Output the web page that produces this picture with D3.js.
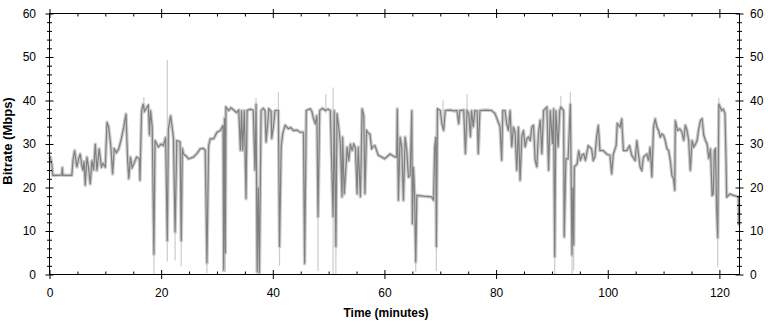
<!DOCTYPE html>
<html>
<head>
<meta charset="utf-8">
<script src="https://cdn.jsdelivr.net/npm/d3@7"></script>
<style>
  body { margin: 0; background: #fff; }
  text { font-family: "Liberation Sans", Arial, sans-serif; }
</style>
</head>
<body>
<script>
// bitrate samples: [minute, Mbps]
const bitrate = [
  [0.0,26.5],[0.15,27.0],[0.4,25.4],[0.6,22.8],[1.5,22.8],[2.2,22.9],[2.3,24.6],[2.4,22.8],[3.5,22.8],[4.0,22.8],
  [4.2,26.2],[4.5,28.5],[4.9,24.7],[5.2,26.5],[5.5,27.7],[5.8,25.0],[6.0,23.9],[6.2,26.0],[6.4,20.5],[6.7,27.0],
  [7.0,24.5],[7.3,20.8],[7.6,26.2],[7.9,24.0],[8.2,30.0],[8.5,23.9],[8.9,28.9],[9.3,24.7],[9.6,25.5],[10.0,24.7],
  [10.3,35.0],[10.6,33.9],[11.0,29.3],[11.3,23.1],[11.6,28.9],[12.0,28.0],[12.4,28.9],[12.8,30.8],[13.3,33.9],[13.7,36.9],
  [14.0,26.2],[14.2,22.0],[14.5,27.0],[14.8,24.5],[15.1,25.4],[15.6,27.0],[16.1,26.6],[16.2,21.6],[16.5,37.7],[16.8,39.2],
  [17.0,37.5],[17.3,38.1],[17.7,38.9],[17.9,32.0],[18.1,37.7],[18.4,33.9],[18.7,4.6],[18.9,30.8],[19.5,29.3],[20.0,30.0],
  [20.4,29.6],[20.8,31.5],[21.1,7.7],[21.3,33.5],[21.7,36.5],[22.0,33.5],[22.2,31.5],[22.5,9.7],[22.8,30.8],[23.4,30.5],
  [23.6,7.7],[23.8,29.0],[24.0,27.7],[24.5,27.2],[24.9,26.6],[25.4,26.8],[25.8,27.0],[26.4,27.8],[27.0,28.9],[27.6,29.0],
  [27.9,28.5],[28.2,2.6],[28.5,29.6],[28.8,31.2],[29.4,31.2],[30.0,32.7],[30.6,33.1],[31.1,34.3],[31.2,0.9],[31.35,36.0],
  [31.5,4.9],[31.6,38.5],[32.1,37.7],[32.5,38.3],[33.0,37.8],[33.5,37.2],[33.9,37.8],[34.2,28.5],[34.4,37.7],[34.6,28.5],
  [34.9,37.7],[35.2,17.4],[35.4,37.7],[36.0,38.0],[36.5,37.7],[36.8,23.9],[37.0,39.2],[37.2,0.5],[37.4,20.0],[37.6,0.3],
  [37.9,37.7],[38.3,38.2],[38.6,37.7],[38.8,30.4],[39.3,38.1],[39.7,37.5],[39.8,31.2],[40.1,33.9],[40.4,37.7],[41.0,37.7],
  [41.2,6.3],[41.5,29.3],[41.8,32.5],[42.2,34.3],[42.8,33.5],[43.2,33.8],[43.7,33.1],[44.3,33.2],[44.9,32.7],[45.5,32.7],
  [45.7,2.5],[46.0,37.7],[46.7,38.1],[47.0,37.5],[47.3,35.8],[47.6,34.7],[47.9,36.5],[48.1,13.2],[48.4,37.7],[48.9,38.2],
  [49.4,37.7],[49.9,38.0],[50.3,37.7],[50.8,13.2],[51.0,37.7],[51.3,6.3],[51.5,37.0],[51.8,33.9],[52.1,30.0],[52.4,17.8],
  [52.5,31.6],[52.8,18.5],[53.1,24.7],[53.3,29.3],[53.6,26.1],[53.9,30.0],[54.2,28.5],[54.5,30.0],[54.8,29.0],[55.1,18.5],
  [55.3,29.3],[55.7,17.8],[56.0,38.1],[56.3,36.5],[56.5,18.5],[56.8,33.1],[57.1,32.5],[57.4,32.3],[57.7,28.9],[58.0,29.5],
  [58.3,29.6],[58.6,28.5],[58.9,27.4],[59.5,27.0],[60.0,26.6],[60.4,27.0],[61.0,27.7],[61.5,27.3],[61.9,27.0],[62.2,27.0],
  [62.3,38.1],[62.5,17.0],[62.8,31.6],[63.1,29.3],[63.4,17.0],[63.7,31.6],[64.0,28.5],[64.3,22.4],[64.6,22.7],[64.9,37.7],
  [65.0,11.6],[65.2,24.7],[65.4,18.5],[65.6,2.8],[65.8,18.2],[67.0,18.0],[68.0,17.9],[68.5,17.8],[68.8,17.0],[69.0,29.3],
  [69.2,31.6],[69.3,6.3],[69.5,38.1],[70.0,37.7],[70.3,34.6],[70.6,33.1],[70.9,37.7],[71.8,37.8],[72.5,37.6],[73.0,37.7],
  [73.3,34.6],[73.5,37.7],[74.2,37.8],[74.5,27.7],[74.8,37.7],[75.1,37.0],[75.4,31.6],[75.6,37.7],[75.9,33.9],[76.2,37.7],
  [76.6,37.6],[76.8,27.7],[77.1,37.7],[78.3,37.8],[79.2,37.7],[79.8,37.0],[80.4,35.0],[80.7,33.9],[81.0,26.2],[81.2,37.7],
  [81.6,37.7],[81.9,34.6],[82.2,33.1],[82.5,37.7],[82.8,29.3],[83.1,33.9],[83.4,32.7],[83.7,23.9],[84.0,33.9],[84.3,21.6],
  [84.6,31.6],[84.9,33.1],[85.2,29.3],[85.5,31.2],[85.8,31.6],[86.1,30.8],[86.4,33.9],[86.7,34.3],[87.0,26.2],[87.3,24.7],
  [87.6,32.7],[87.9,35.5],[88.2,27.7],[88.5,37.7],[89.1,38.5],[89.4,23.9],[89.7,37.7],[90.1,30.0],[90.3,38.1],[90.5,4.0],
  [90.7,37.7],[91.1,29.3],[91.4,37.7],[91.6,38.5],[92.1,37.7],[92.2,8.6],[92.5,26.6],[92.9,26.6],[93.3,39.2],[93.6,4.4],
  [93.75,20.0],[93.9,6.7],[94.0,24.7],[94.5,25.4],[94.8,28.5],[95.1,26.2],[95.4,27.5],[95.7,27.7],[96.0,26.2],[96.5,29.6],
  [97.1,28.9],[97.4,26.2],[97.7,27.0],[98.0,31.6],[98.3,34.3],[98.6,28.5],[99.2,28.5],[99.8,27.7],[100.4,27.4],[100.7,23.1],
  [101.0,27.7],[101.5,29.6],[101.7,34.7],[102.2,33.9],[102.5,35.8],[102.8,28.5],[103.4,28.5],[103.9,29.6],[104.3,27.4],[104.9,26.2],
  [105.2,30.8],[105.5,27.7],[105.8,24.7],[106.1,23.9],[106.4,27.0],[107.0,27.7],[107.3,26.2],[107.6,29.3],[107.9,22.4],[108.2,33.9],
  [108.5,35.8],[108.8,33.9],[109.1,33.1],[109.4,31.6],[109.7,32.3],[110.0,32.0],[110.3,30.8],[110.6,28.9],[110.9,28.5],[111.2,26.2],
  [111.5,22.7],[111.8,22.0],[112.0,19.3],[112.1,35.4],[112.5,33.1],[112.9,33.5],[113.3,32.7],[113.6,30.8],[113.9,34.3],[114.2,33.1],
  [114.5,30.8],[114.8,23.9],[115.1,30.8],[115.4,29.3],[115.7,29.9],[116.0,30.8],[116.3,33.5],[116.6,35.4],[116.9,35.8],[117.2,32.0],
  [117.5,30.8],[117.8,30.0],[118.1,26.6],[118.4,28.9],[118.7,18.2],[118.9,18.5],[119.1,28.5],[119.3,28.9],[119.5,15.5],[119.7,8.4],
  [119.9,39.2],[120.4,37.7],[120.7,38.0],[121.0,37.0],[121.2,25.4],[121.3,17.8],[121.9,18.5],[122.5,18.2],[123.0,18.0],[123.4,17.8],
  [123.5,11.3]
];

// light grey min/max excursions beyond the averaged line: [minute, low, high]
const peaks = [
  [16.9,37,40.8],[18.7,0,30],[21.1,3.0,49.3],[22.5,3.2,30],[23.6,1.9,29],[28.2,0.3,29],[31.5,0.5,38],
  [37.0,30,40.5],[41.0,30,41.9],[41.2,2.0,29],[48.1,0.8,37],[49.5,37,41.5],[50.8,0,43.0],[51.3,0,37],
  [65.6,0.5,18],[69.3,0.8,38],[70.5,37,40.0],[74.8,37,41.5],[90.5,0,38],[91.6,37,41.1],[93.3,37,41.9],
  [93.6,0,20],[93.9,1.0,24],[119.7,1.7,15],[119.9,38,40.6]
];

const xMajor = [0, 20, 40, 60, 80, 100, 120];
const yMajor = [0, 10, 20, 30, 40, 50, 60];
const xMinor = d3.range(0, 124, 5).filter(v => v % 20 !== 0);
const yMinor = d3.range(0, 61, 2).filter(v => v % 10 !== 0);

const svg = d3.select('body').append('svg')
    .attr('width', 768)
    .attr('height', 322);

const x = d3.scaleLinear().domain([0, 123.6]).range([49.5, 739.5]);
const y = d3.scaleLinear().domain([0, 60]).range([274.5, 13.5]);

// light envelope first, dark line on top
const line = d3.line()
    .x(d => x(d[0]))
    .y(d => y(d[1]));

svg.append('path')
    .datum(bitrate)
    .attr('d', line)
    .attr('fill', 'none')
    .attr('stroke', '#cccccc')
    .attr('stroke-width', 3.5)
    .attr('stroke-linejoin', 'round');

svg.selectAll('line.peak')
    .data(peaks)
    .enter().append('line')
    .attr('class', 'peak')
    .attr('x1', d => x(d[0]))
    .attr('x2', d => x(d[0]))
    .attr('y1', d => y(d[1]))
    .attr('y2', d => y(d[2]))
    .attr('stroke', '#cccccc')
    .attr('stroke-width', 1.2);

svg.append('path')
    .datum(bitrate)
    .attr('d', line)
    .attr('fill', 'none')
    .attr('stroke', '#808080')
    .attr('stroke-width', 1.2);

// frame
svg.append('rect')
    .attr('x', 49.5).attr('y', 13.5)
    .attr('width', 690).attr('height', 261)
    .attr('fill', 'none')
    .attr('stroke', '#000');

function tidy(g) {
  g.select('.domain').remove();
  g.selectAll('.tick line').attr('stroke', '#000');
  g.selectAll('text').attr('font-size', '12px').attr('fill', '#000');
}

// bottom
svg.append('g').attr('transform', 'translate(0,274.5)')
    .call(d3.axisBottom(x).tickValues(xMinor).tickSize(-3).tickFormat(''))
    .call(tidy);
svg.append('g').attr('transform', 'translate(0,274.5)')
    .call(d3.axisBottom(x).tickValues(xMajor).tickSize(4.5).tickPadding(9.5))
    .call(tidy)
    .call(g => g.selectAll('.tick line').attr('y1', -4.5));

// top
svg.append('g').attr('transform', 'translate(0,13.5)')
    .call(d3.axisTop(x).tickValues(xMinor).tickSize(-3).tickFormat(''))
    .call(tidy);
svg.append('g').attr('transform', 'translate(0,13.5)')
    .call(d3.axisTop(x).tickValues(xMajor).tickSize(4.5).tickFormat(''))
    .call(tidy)
    .call(g => g.selectAll('.tick line').attr('y1', 4.5));

// left
svg.append('g').attr('transform', 'translate(49.5,0)')
    .call(d3.axisLeft(y).tickValues(yMinor).tickSize(2.5).tickFormat(''))
    .call(tidy)
    .call(g => g.selectAll('.tick line').attr('x1', 2.5));
svg.append('g').attr('transform', 'translate(49.5,0)')
    .call(d3.axisLeft(y).tickValues(yMajor).tickSize(4).tickPadding(9.5))
    .call(tidy)
    .call(g => g.selectAll('.tick line').attr('x1', 4));

// right
svg.append('g').attr('transform', 'translate(739.5,0)')
    .call(d3.axisRight(y).tickValues(yMinor).tickSize(2.5).tickFormat(''))
    .call(tidy)
    .call(g => g.selectAll('.tick line').attr('x1', -2.5));
svg.append('g').attr('transform', 'translate(739.5,0)')
    .call(d3.axisRight(y).tickValues(yMajor).tickSize(4).tickPadding(6.5))
    .call(tidy)
    .call(g => g.selectAll('.tick line').attr('x1', -4));

// axis titles
svg.append('text')
    .attr('transform', 'translate(12,141) rotate(-90)')
    .attr('text-anchor', 'middle')
    .attr('font-size', '13px')
    .attr('font-weight', 'bold')
    .text('Bitrate (Mbps)');

svg.append('text')
    .attr('x', 386)
    .attr('y', 316.5)
    .attr('text-anchor', 'middle')
    .attr('font-size', '12px')
    .attr('font-weight', 'bold')
    .text('Time (minutes)');
</script>
</body>
</html>
